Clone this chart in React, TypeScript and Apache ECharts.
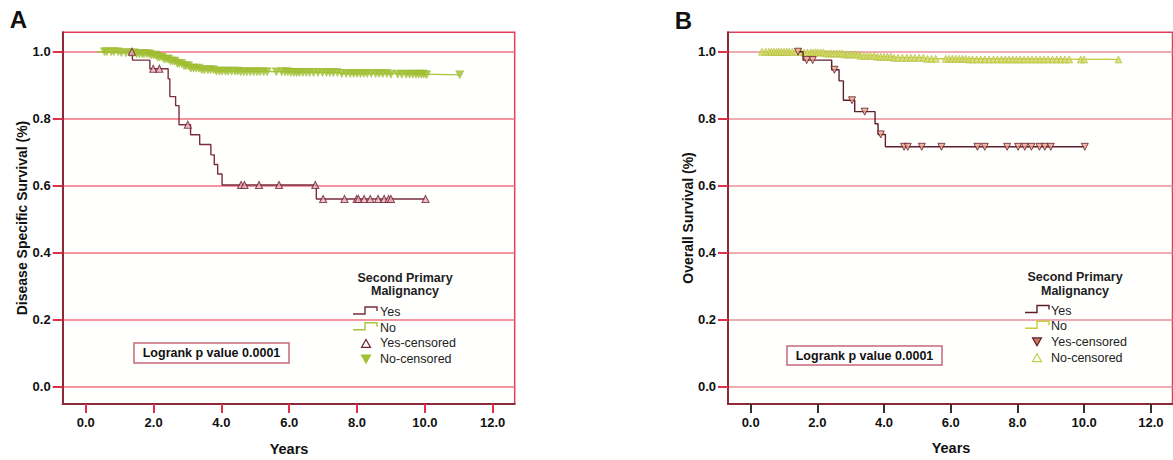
import React, { useEffect, useRef } from "react";
import * as echarts from "echarts";

const xTicks = [0, 2, 4, 6, 8, 10, 12];
const yTicks = [0, 0.2, 0.4, 0.6, 0.8, 1.0];

// Panel A (Disease specific survival)
const aYesCurve: [number, number][] = [
  [1.36, 1.0], [1.38, 0.975], [1.89, 0.949], [2.43, 0.919], [2.48, 0.866], [2.65, 0.839],
  [2.75, 0.782], [3.09, 0.752], [3.36, 0.723], [3.69, 0.692], [3.79, 0.663], [3.89, 0.635],
  [4.02, 0.602], [6.8, 0.56], [10.02, 0.56],
];
const aYesCensored = [1.36, 1.99, 2.17, 3.01, 4.58, 4.68, 5.11, 5.7, 6.77, 7.0, 7.63, 7.99, 8.04, 8.21, 8.39, 8.62, 8.8, 8.93, 9.0, 10.02];
const aNoCurve: [number, number][] = [
  [0.32, 1.0], [1.0, 0.997], [1.5, 0.994], [1.9, 0.99], [2.1, 0.984], [2.3, 0.978], [2.5, 0.972],
  [2.7, 0.965], [2.9, 0.958], [3.1, 0.951], [3.4, 0.946], [3.8, 0.942], [4.5, 0.94], [6.0, 0.938],
  [7.5, 0.935], [9.0, 0.933], [10.0, 0.931], [11.03, 0.931],
];
const aNoCensored = [
  0.55, 0.62, 0.75, 0.83, 0.95, 1.05, 1.18, 1.3, 1.42, 1.5, 1.58, 1.66, 1.72, 1.8, 1.87, 1.93, 2.0,
  2.06, 2.12, 2.18, 2.25, 2.31, 2.38, 2.44, 2.5, 2.57, 2.63, 2.7, 2.76, 2.83, 2.9, 2.96, 3.03, 3.1,
  3.18, 3.26, 3.34, 3.42, 3.5, 3.6, 3.68, 3.77, 3.85, 3.94, 4.02, 4.12, 4.2, 4.3, 4.4, 4.48, 4.57,
  4.66, 4.75, 4.85, 4.95, 5.05, 5.14, 5.25, 5.35, 5.62, 5.78, 5.88, 5.96, 6.05, 6.14, 6.22, 6.3, 6.4,
  6.5, 6.6, 6.72, 6.85, 6.98, 7.1, 7.2, 7.3, 7.42, 7.55, 7.68, 7.8, 7.9, 8.0, 8.1, 8.2, 8.3, 8.42,
  8.55, 8.65, 8.76, 8.88, 9.0, 9.2, 9.32, 9.45, 9.55, 9.65, 9.74, 9.82, 9.9, 9.97, 10.05, 11.03,
];

// Panel B (Overall survival)
const bYesCurve: [number, number][] = [
  [1.42, 1.0], [1.57, 0.975], [2.43, 0.946], [2.65, 0.913], [2.78, 0.855], [3.12, 0.821],
  [3.73, 0.785], [3.82, 0.753], [4.04, 0.716], [10.02, 0.716],
];
const bYesCensored = [1.42, 1.68, 1.86, 2.51, 3.04, 3.42, 3.9, 4.6, 4.71, 5.13, 5.72, 6.8, 7.02, 7.69, 8.02, 8.22, 8.42, 8.66, 8.82, 9.0, 10.02];
const bNoCurve: [number, number][] = [
  [0.34, 1.0], [1.6, 0.998], [2.2, 0.995], [2.8, 0.992], [3.3, 0.988], [3.8, 0.985], [4.3, 0.982],
  [5.2, 0.979], [6.5, 0.977], [11.03, 0.977],
];
const bNoCensored = [
  0.34, 0.45, 0.55, 0.62, 0.7, 0.78, 0.85, 0.92, 1.0, 1.08, 1.15, 1.25, 1.35, 1.5, 1.6, 1.7, 1.8,
  1.88, 1.95, 2.02, 2.1, 2.18, 2.26, 2.34, 2.42, 2.5, 2.58, 2.66, 2.74, 2.82, 2.9, 2.98, 3.06, 3.14,
  3.22, 3.3, 3.4, 3.5, 3.6, 3.7, 3.8, 3.9, 4.0, 4.1, 4.2, 4.3, 4.42, 4.55, 4.68, 4.8, 4.92, 5.05,
  5.18, 5.3, 5.42, 5.55, 5.85, 5.95, 6.05, 6.15, 6.25, 6.35, 6.45, 6.55, 6.65, 6.78, 6.9, 7.02, 7.15,
  7.28, 7.4, 7.52, 7.64, 7.75, 7.86, 7.97, 8.08, 8.2, 8.32, 8.44, 8.56, 8.68, 8.8, 8.92, 9.05, 9.18,
  9.3, 9.42, 9.55, 9.9, 10.0, 11.03,
];

const FONT = "'Liberation Sans', Arial, Helvetica, sans-serif";

function survivalAt(curve: [number, number][], t: number): number {
  let v = curve[0][1];
  for (const [x, y] of curve) {
    if (x <= t + 1e-9) v = y;
    else break;
  }
  return v;
}
function censoredPoints(curve: [number, number][], times: number[]) {
  return times.map((t) => [t, survivalAt(curve, t)]);
}

function makeXAxis(gridIndex: number, tickColor: string) {
  return {
    type: "value",
    gridIndex,
    min: -0.68,
    max: 12.65,
    axisLine: { show: true, onZero: false, lineStyle: { color: "#8c2a3a", width: 2 } },
    axisTick: { show: true, inside: false, length: 9, customValues: xTicks, lineStyle: { color: tickColor, width: 2 } },
    axisLabel: {
      customValues: xTicks,
      margin: 12,
      formatter: (v: number) => v.toFixed(1),
      fontFamily: FONT,
      fontWeight: "bold",
      fontSize: 13,
      color: "#111",
    },
    splitLine: { show: false },
  };
}
function makeYAxis(gridIndex: number, gridColor: string) {
  return {
    type: "value",
    gridIndex,
    min: -0.052,
    max: 1.058,
    axisLine: { show: true, onZero: false, lineStyle: { color: "#8c2a3a", width: 2 } },
    axisTick: { show: true, inside: false, length: 10, customValues: yTicks, lineStyle: { color: "#e0304a", width: 2 } },
    axisLabel: {
      customValues: yTicks,
      margin: 12,
      formatter: (v: number) => v.toFixed(1),
      fontFamily: FONT,
      fontWeight: "bold",
      fontSize: 13,
      color: "#111",
    },
    splitLine: { show: true, lineStyle: { color: gridColor, width: 1.5 } },
  };
}

function legendGraphics(cx: number, textX: number, iconX0: number, y0: number, titleY: number, colors: any) {
  const els: any[] = [];
  els.push({
    type: "text", x: cx, y: titleY, z: 10,
    style: { text: "Second Primary", fontFamily: FONT, fontWeight: "bold", fontSize: 12.5, fill: "#222", align: "center", verticalAlign: "middle" },
  });
  els.push({
    type: "text", x: cx, y: titleY + 13.5, z: 10,
    style: { text: "Malignancy", fontFamily: FONT, fontWeight: "bold", fontSize: 12.5, fill: "#222", align: "center", verticalAlign: "middle" },
  });
  const labels = ["Yes", "No", "Yes-censored", "No-censored"];
  labels.forEach((lab, i) => {
    els.push({
      type: "text", x: textX, y: y0 + i * 15.7, z: 10,
      style: { text: lab, fontFamily: FONT, fontSize: 12.5, fill: "#222", align: "left", verticalAlign: "middle" },
    });
  });
  const step = (y: number, color: string) => ({
    type: "polyline", z: 10,
    shape: { points: [[iconX0, y + 2], [iconX0 + 12, y + 2], [iconX0 + 12, y - 5], [iconX0 + 24, y - 5], [iconX0 + 24, y - 1]] },
    style: { stroke: color, lineWidth: 1.4, fill: null },
  });
  els.push(step(y0, colors.yes));
  els.push(step(y0 + 15.7, colors.no));
  const mx = textX - 14;
  const tri = (y: number, up: boolean, fill: string, stroke: string) => ({
    type: "polygon", z: 10,
    shape: {
      points: up
        ? [[mx - 4.5, y + 4], [mx + 4.5, y + 4], [mx, y - 4]]
        : [[mx - 4.5, y - 4], [mx + 4.5, y - 4], [mx, y + 4]],
    },
    style: { fill, stroke, lineWidth: 1.2 },
  });
  els.push(tri(y0 + 31.4, colors.yesUp, colors.yesFill, colors.yesStroke));
  els.push(tri(y0 + 47.1, colors.noUp, colors.noFill, colors.noStroke));
  return els;
}

function logrankBox(x: number, y: number, w: number, h: number) {
  return [
    { type: "rect", z: 10, shape: { x, y, width: w, height: h }, style: { fill: "#fff", stroke: "#c86878", lineWidth: 1.5 } },
    {
      type: "text", z: 11, x: x + w / 2, y: y + h / 2,
      style: { text: "Logrank p value 0.0001", fontFamily: FONT, fontWeight: "bold", fontSize: 12.5, fill: "#111", align: "center", verticalAlign: "middle" },
    },
  ];
}

export default function App() {
  const ref = useRef<HTMLDivElement>(null);
  useEffect(() => {
    if (!ref.current) return;
    const chart = echarts.init(ref.current, null, { renderer: "svg" });
    const option: any = {
      animation: false,
      backgroundColor: "#ffffff",
      grid: [
        { left: 62.7, top: 32.3, width: 452, height: 371.7, show: true, borderColor: "#e0405a", borderWidth: 1.5, backgroundColor: "#fffffd" },
        { left: 728, top: 32.3, width: 444.5, height: 371.7, show: true, borderColor: "#e0405a", borderWidth: 1.5, backgroundColor: "#fffffd" },
      ],
      xAxis: [makeXAxis(0, "#e0304a"), makeXAxis(1, "#333333")],
      yAxis: [makeYAxis(0, "#f07282"), makeYAxis(1, "#eb8f9b")],
      series: [
        {
          type: "line", xAxisIndex: 0, yAxisIndex: 0, step: "end", data: aNoCurve, showSymbol: false,
          lineStyle: { color: "#a8c43a", width: 1.4 }, z: 3,
        },
        {
          type: "scatter", xAxisIndex: 0, yAxisIndex: 0, data: censoredPoints(aNoCurve, aNoCensored),
          symbol: "triangle", symbolRotate: 180, symbolSize: 8,
          itemStyle: { color: "#a3c133", borderColor: "#98b82c", borderWidth: 0.6 }, z: 4,
        },
        {
          type: "line", xAxisIndex: 0, yAxisIndex: 0, step: "end", data: aYesCurve, showSymbol: false,
          lineStyle: { color: "#7b2d3f", width: 1.4 }, z: 5,
        },
        {
          type: "scatter", xAxisIndex: 0, yAxisIndex: 0, data: censoredPoints(aYesCurve, aYesCensored),
          symbol: "triangle", symbolSize: 7,
          itemStyle: { color: "#f0b4be", borderColor: "#6e2434", borderWidth: 1.1 }, z: 6,
        },
        {
          type: "line", xAxisIndex: 1, yAxisIndex: 1, step: "end", data: bNoCurve, showSymbol: false,
          lineStyle: { color: "#c8cb3e", width: 1.4 }, z: 3,
        },
        {
          type: "scatter", xAxisIndex: 1, yAxisIndex: 1, data: censoredPoints(bNoCurve, bNoCensored),
          symbol: "triangle", symbolSize: 7,
          itemStyle: { color: "#d2d964", borderColor: "#b2bd38", borderWidth: 0.8 }, z: 4,
        },
        {
          type: "line", xAxisIndex: 1, yAxisIndex: 1, step: "end", data: bYesCurve, showSymbol: false,
          lineStyle: { color: "#5e1f2e", width: 1.4 }, z: 5,
        },
        {
          type: "scatter", xAxisIndex: 1, yAxisIndex: 1, data: censoredPoints(bYesCurve, bYesCensored),
          symbol: "triangle", symbolRotate: 180, symbolSize: 7,
          itemStyle: { color: "#f4a58a", borderColor: "#5e1f2e", borderWidth: 1 }, z: 6,
        },
      ],
      graphic: [
        { type: "text", x: 18.5, y: 19, style: { text: "A", fontFamily: FONT, fontWeight: "bold", fontSize: 24, fill: "#111", align: "center", verticalAlign: "middle" } },
        { type: "text", x: 683.5, y: 20, style: { text: "B", fontFamily: FONT, fontWeight: "bold", fontSize: 24, fill: "#111", align: "center", verticalAlign: "middle" } },
        { type: "text", x: 21.5, y: 218, rotation: Math.PI / 2, style: { text: "Disease Specific Survival (%)", fontFamily: FONT, fontWeight: "bold", fontSize: 14, fill: "#111", align: "center", verticalAlign: "middle" } },
        { type: "text", x: 687.5, y: 218, rotation: Math.PI / 2, style: { text: "Overall Survival (%)", fontFamily: FONT, fontWeight: "bold", fontSize: 14, fill: "#111", align: "center", verticalAlign: "middle" } },
        { type: "text", x: 289, y: 449, style: { text: "Years", fontFamily: FONT, fontWeight: "bold", fontSize: 14.5, fill: "#111", align: "center", verticalAlign: "middle" } },
        { type: "text", x: 951, y: 448, style: { text: "Years", fontFamily: FONT, fontWeight: "bold", fontSize: 14.5, fill: "#111", align: "center", verticalAlign: "middle" } },
        ...logrankBox(134, 343, 155, 20),
        ...logrankBox(787, 346, 155, 19),
        ...legendGraphics(405, 380, 353, 312, 277.5, {
          yes: "#7b2d3f", no: "#a8c43a",
          yesUp: true, yesFill: "#ffffff", yesStroke: "#6e2434",
          noUp: false, noFill: "#a3c133", noStroke: "#a3c133",
        }),
        ...legendGraphics(1075, 1051, 1025, 310.5, 277, {
          yes: "#5e1f2e", no: "#c8cb3e",
          yesUp: false, yesFill: "#c87a58", yesStroke: "#5e1f2e",
          noUp: true, noFill: "#ffffff", noStroke: "#c4cf4c",
        }),
      ],
    };
    chart.setOption(option);
    return () => chart.dispose();
  }, []);
  return (
    <div
      ref={ref}
      style={{ position: "fixed", left: 0, top: 0, width: 1173, height: 460, background: "#fff" }}
    />
  );
}
